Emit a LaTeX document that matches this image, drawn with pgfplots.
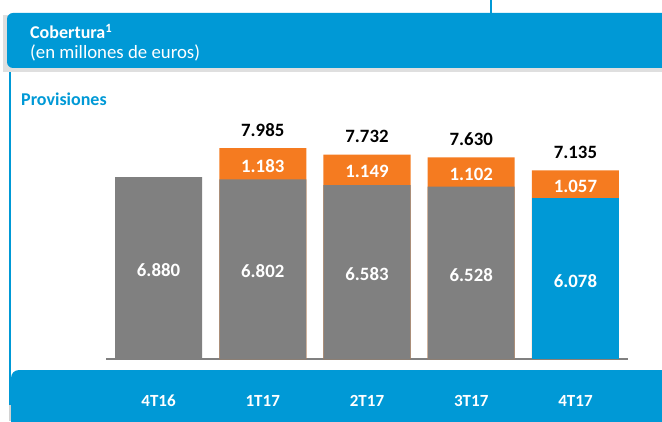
\documentclass[border=0pt]{standalone}
\usepackage{fontspec}
\setmainfont{Carlito}
\usepackage{pgfplots}
\pgfplotsset{compat=1.18}
\definecolor{cblue}{RGB}{0,153,214}
\definecolor{cgray}{RGB}{128,128,128}
\definecolor{corange}{RGB}{245,123,32}
\newcommand{\fs}[1]{\fontsize{#1}{#1}\selectfont}
\begin{document}
\begin{tikzpicture}[x=1pt,y=1pt]
\useasboundingbox (0,0) rectangle (662,421);
\clip (0,0) rectangle (662,421);
% top connector line
\fill[cblue] (490,405) rectangle (492,421);
% header shadow
\fill[gray!25] (3,349) rectangle (662,406);
% header
\fill[cblue, rounded corners=6pt] (7,353) rectangle (690,408);
\node[anchor=base west, text=white, inner sep=0] at (30,382.7) {\fs{18}\bfseries Cobertura\textsuperscript{1}};
\node[anchor=base west, text=white, inner sep=0] at (30,362) {\fs{18.8}(en millones de euros)};
% left border
\fill[cblue] (9,16) rectangle (10.5,349);
\fill[gray!35] (9,0) rectangle (10.5,16);
% subtitle
\node[anchor=base west, text=cblue, inner sep=0] at (21,315.3) {\fs{18}\bfseries Provisiones};
% bottom band
\fill[cblue, rounded corners=8pt] (11,-20) rectangle (690,51);
\begin{axis}[
  at={(106.4pt,62pt)}, anchor=south west,
  scale only axis, width=521.2pt, height=264.24pt,
  xmin=-0.5, xmax=4.5, ymin=0, ymax=10000,
  clip=false,
  axis x line=bottom, axis y line=none,
  x axis line style={draw=cgray, line width=2pt, -},
  xtick={0,1,2,3,4},
  xticklabels={4T16,1T17,2T17,3T17,4T17},
  major tick length=0pt,
  xticklabel style={anchor=base, yshift=-47pt, text=white, font=\fs{17}\bfseries},
  ytick=\empty,
]
% totals (orange segment shows above base)
\addplot[ybar, bar shift=0pt, bar width=87pt, fill=corange, draw=none]
  coordinates {(1,7985) (2,7732) (3,7630) (4,7135)};
% base (gray)
\addplot[ybar, bar shift=0pt, bar width=87pt, fill=cgray, draw=none]
  coordinates {(0,6880) (1,6802) (2,6583) (3,6528)};
% base (blue)
\addplot[ybar, bar shift=0pt, bar width=87pt, fill=cblue, draw=none]
  coordinates {(4,6078)};
% labels inside base
\addplot[draw=none, nodes near coords, point meta=explicit symbolic,
  nodes near coords style={anchor=center, text=white, font=\fs{18.8}\bfseries, yshift=-2pt}]
  coordinates {(0,3440)[6.880] (1,3401)[6.802] (2,3291.5)[6.583] (3,3264)[6.528] (4,3039)[6.078]};
% labels inside orange
\addplot[draw=none, nodes near coords, point meta=explicit symbolic,
  nodes near coords style={anchor=center, text=white, font=\fs{18.8}\bfseries, yshift=-2pt}]
  coordinates {(1,7393.5)[1.183] (2,7157.5)[1.149] (3,7079)[1.102] (4,6606.5)[1.057]};
% total labels
\addplot[draw=none, nodes near coords, point meta=explicit symbolic,
  nodes near coords style={anchor=base, text=black, font=\fs{18.8}\bfseries, yshift=12pt}]
  coordinates {(1,7985)[7.985] (2,7732)[7.732] (3,7630)[7.630] (4,7135)[7.135]};
\end{axis}
\end{tikzpicture}
\end{document}
